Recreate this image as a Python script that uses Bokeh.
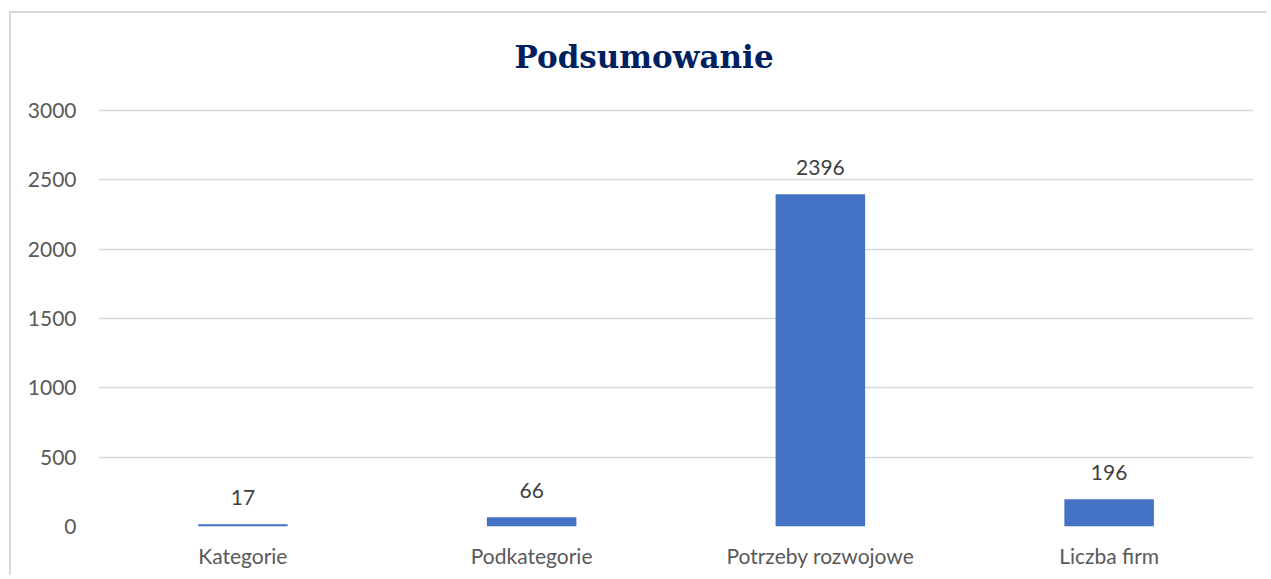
from bokeh.plotting import figure
from bokeh.models import ColumnDataSource, FixedTicker, Title, Range1d
from bokeh.embed import file_html
from bokeh.resources import INLINE

categories = ["Kategorie", "Podkategorie", "Potrzeby rozwojowe", "Liczba firm"]
values = [17, 66, 2396, 196]
y_ticks = [0, 500, 1000, 1500, 2000, 2500, 3000]

src = ColumnDataSource(data=dict(cat=categories, val=values, lab=[str(v) for v in values]))

p = figure(
    x_range=categories, y_range=Range1d(0, 3094),
    width=1258, height=564,
    output_backend="svg", toolbar_location=None,
    min_border_left=87, min_border_right=16, min_border_top=83, min_border_bottom=51,
    outline_line_color=None, background_fill_color="white", border_fill_color="white",
)
p.styles = {"border-top": "2px solid #d9d9d9", "border-left": "2px solid #d9d9d9",
            "margin-left": "9px", "margin-top": "11px"}

t = Title(text="Podsumowanie", align="left", offset=416, vertical_align="bottom",
          standoff=46, text_font="DejaVu Serif", text_font_style="bold",
          text_font_size="31px", text_color="#002060")
p.add_layout(t, "above")

p.vbar(x="cat", top="val", width=0.31, source=src, fill_color="#4472C4", line_color=None)
p.text(x="cat", y="val", text="lab", source=src, y_offset=-27,
       text_align="center", text_baseline="alphabetic",
       text_font_size="21px", text_color="#404040", text_font={"value": "Lato"})

p.yaxis.ticker = FixedTicker(ticks=y_ticks)
p.yaxis.axis_line_color = None
p.yaxis.major_tick_line_color = None
p.yaxis.minor_tick_line_color = None
p.yaxis.major_label_standoff = 16
p.yaxis.major_label_text_font = "Lato"
p.yaxis.major_label_text_font_size = "21px"
p.yaxis.major_label_text_color = "#595959"

p.xaxis.axis_line_color = None
p.xaxis.major_tick_line_color = None
p.xaxis.major_label_standoff = 10
p.xaxis.major_label_text_font = "Lato"
p.xaxis.major_label_text_font_size = "21px"
p.xaxis.major_label_text_color = "#595959"

p.xgrid.grid_line_color = None
p.ygrid.grid_line_color = "#d9d9d9"
p.ygrid.grid_line_width = 1.5

open("out.html", "w").write(file_html(p, INLINE))
